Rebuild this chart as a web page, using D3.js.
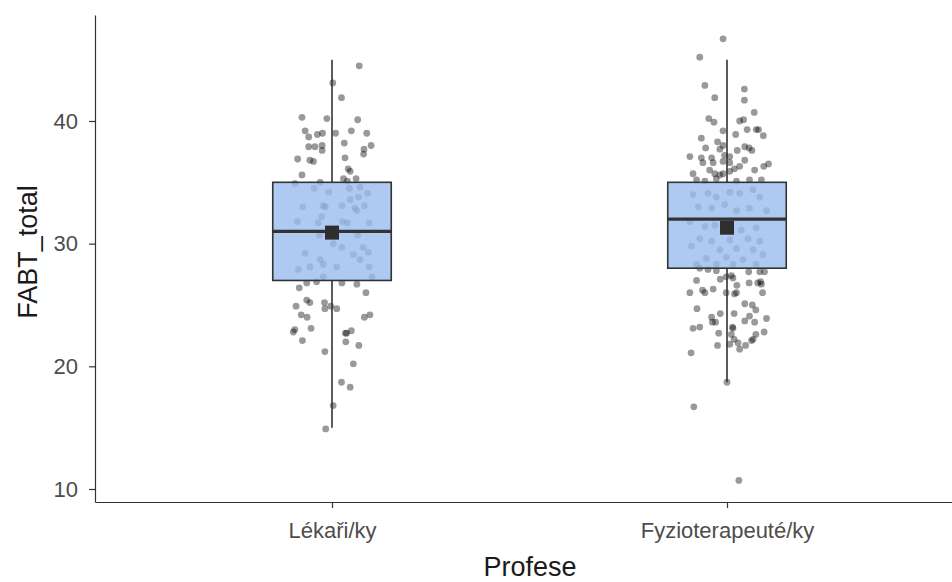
<!DOCTYPE html>
<html>
<head>
<meta charset="utf-8">
<script src="https://cdn.jsdelivr.net/npm/d3@7"></script>
<style>
  html, body { margin: 0; padding: 0; background: #fff; }
  svg { display: block; font-family: "Liberation Sans", Arial, sans-serif; }
</style>
</head>
<body>
<svg id="chart" width="952" height="582"></svg>
<script>
// Professions on the x axis
const categories = ["Lékaři/ky", "Fyzioterapeuté/ky"];

// FABT_total scores per respondent, with the horizontal jitter offset (in category units)
const lekariValues = [
  44.5, 43.1, 41.9, 40.3, 40.2, 40.1, 39.2, 38.7, 38.9, 39.0, 39.0, 39.2, 39.0, 38.2, 37.9, 37.9,
  38.0, 37.6, 38.0, 37.7, 37.3, 36.9, 36.8, 36.7, 37.0, 36.1, 35.9, 35.6, 35.3, 35.3, 34.9, 35.0,
  35.1, 34.5, 34.2, 34.5, 34.6, 34.1, 33.8, 33.6, 33.0, 33.1, 33.0, 33.1, 32.9, 32.7, 33.1, 32.2,
  31.8, 31.7, 31.8, 31.7, 31.7, 30.7, 30.7, 30.0, 29.7, 29.7, 29.3, 29.2, 29.1, 28.7, 28.7, 28.3,
  28.1, 28.1, 27.9, 28.1, 27.3, 27.3, 26.8, 26.9, 26.8, 26.7, 26.4, 26.0, 25.4, 25.2, 25.2, 24.9,
  24.7, 24.9, 24.7, 24.2, 24.0, 24.0, 24.2, 23.0, 22.8, 23.1, 22.7, 22.7, 22.9, 22.0, 22.1, 21.7,
  21.2, 20.2, 18.7, 18.3, 16.8, 14.9
];
const lekariJitter = [
  0.069, 0.002, 0.024, -0.076, -0.013, 0.065, -0.068, -0.059, -0.037, -0.024, 0.009, 0.049, 0.088, 0.031, -0.059, -0.043,
  -0.025, -0.025, 0.099, 0.081, 0.080, -0.087, -0.056, -0.047, 0.033, 0.041, 0.046, -0.076, 0.029, 0.061, -0.094, -0.030,
  0.039, -0.045, -0.008, 0.044, 0.071, 0.090, 0.067, 0.046, -0.074, -0.022, -0.017, 0.025, 0.058, 0.063, 0.082, -0.026,
  -0.088, -0.035, 0.027, 0.039, 0.094, 0.065, -0.032, 0.003, 0.025, 0.079, 0.092, -0.068, 0.054, 0.071, -0.030, -0.022,
  -0.056, 0.012, -0.085, 0.094, -0.022, 0.101, -0.064, -0.039, 0.025, 0.063, -0.083, 0.086, -0.064, -0.056, -0.019, -0.091,
  -0.018, -0.003, 0.012, -0.078, -0.063, 0.082, 0.096, -0.094, -0.098, -0.053, 0.034, 0.037, 0.049, 0.035, -0.075, 0.068,
  -0.018, 0.054, 0.024, 0.046, 0.003, -0.016
];

const fyzioValues = [
  46.7, 45.2, 42.9, 42.6, 41.9, 41.7, 40.7, 40.2, 39.9, 40.0, 40.1, 39.2, 38.9, 39.3, 39.3, 39.3,
  38.8, 38.6, 37.7, 38.0, 37.6, 37.9, 37.8, 37.6, 37.1, 37.0, 37.2, 37.1, 36.6, 35.7, 36.0, 35.7,
  35.6, 35.7, 35.9, 36.1, 36.3, 36.3, 36.6, 36.7, 36.6, 35.2, 35.1, 35.1, 35.2, 35.2, 35.3, 37.8,
  37.0, 36.8, 36.0, 38.3, 36.5,
  34.0, 34.1, 33.8, 34.2, 34.1, 34.4, 33.8, 33.0, 32.9, 33.2, 32.7, 32.9, 32.7, 31.8, 31.4, 31.5,
  31.1, 31.3, 30.4, 30.2, 30.3, 30.4, 30.2, 29.8, 29.5, 29.6, 29.5, 28.8, 28.9, 28.7, 29.1, 28.3,
  28.3, 28.3, 28.3,
  28.0, 27.9, 27.8, 27.7, 27.7, 27.7, 27.3, 27.4, 27.2, 27.1, 27.0, 26.6, 26.8, 26.8, 26.9, 26.7,
  26.3, 26.2, 26.0, 26.0, 26.0, 26.0, 25.9, 26.0, 25.1, 25.0, 24.7, 24.6, 24.3, 24.3, 24.1, 24.0,
  23.9, 23.7, 23.6, 23.6, 23.6, 23.2, 23.1, 23.2, 23.1, 22.8, 22.7, 22.6, 22.6, 22.2, 22.2, 22.1,
  21.8, 21.9, 21.7, 21.7, 21.4, 21.1, 18.7, 16.7, 10.7
];
const fyzioJitter = [
  -0.010, -0.069, -0.056, 0.044, -0.031, 0.044, 0.069, -0.046, -0.033, 0.032, 0.042, -0.010, 0.022, 0.051, 0.074, 0.080,
  0.092, -0.065, -0.018, -0.010, 0.026, 0.045, 0.056, 0.063, -0.094, -0.065, -0.006, 0.007, -0.061, -0.086, -0.044, -0.031,
  -0.018, -0.010, 0.007, 0.019, 0.032, 0.093, -0.035, -0.010, 0.007, -0.077, -0.056, 0.024, 0.057, 0.087, -0.027, -0.054,
  -0.039, 0.045, 0.070, -0.024, 0.105,
  -0.086, -0.048, -0.027, 0.007, 0.032, 0.066, 0.083, -0.073, -0.039, -0.006, 0.024, 0.057, 0.100, -0.094, -0.056, -0.031,
  0.036, 0.074, -0.069, -0.039, 0.007, 0.053, 0.083, -0.090, -0.018, 0.024, 0.066, -0.052, -0.002, 0.041, 0.091, -0.077,
  -0.027, 0.015, 0.074,
  -0.069, -0.048, -0.027, 0.055, 0.083, 0.095, -0.002, 0.011, 0.015, -0.017, -0.077, 0.025, 0.056, 0.078, 0.085, 0.087,
  -0.035, -0.062, -0.056, -0.094, -0.002, 0.024, 0.019, 0.090, 0.045, 0.064, -0.076, 0.073, 0.018, -0.017, 0.057, -0.039,
  0.100, 0.045, -0.037, -0.029, 0.070, -0.069, -0.086, 0.014, 0.015, 0.094, -0.021, 0.011, 0.073, 0.018, 0.066, 0.062,
  0.007, 0.028, -0.024, 0.047, 0.032, -0.091, 0.000, -0.084, 0.030
];

// Box-plot summaries per profession
const boxQ1 = [27, 28];
const boxMedian = [31, 32];
const boxQ3 = [35, 35];
const whiskerLow = [15, 18.7];
const whiskerHigh = [45, 45];
const groupMeans = [30.9, 31.3];

const yTicks = [10, 20, 30, 40];

const svg = d3.select("#chart");
const plotLeft = 95, plotTop = 15, plotBottom = 502;

const x = d3.scaleLinear().domain([0.4, 2.6]).range([plotLeft, 964]);
const y = d3.scaleLinear().domain([8.94, 48.64]).range([plotBottom, plotTop]);
const boxWidth = 0.3;

// Jittered points
const groups = [
  { values: lekariValues, jitter: lekariJitter },
  { values: fyzioValues, jitter: fyzioJitter }
];
const pts = svg.append("g");
groups.forEach((g, gi) => {
  pts.selectAll(null)
    .data(g.values.map((v, i) => ({ v, j: g.jitter[i], pos: gi + 1 })))
    .join("circle")
    .attr("cx", d => x(d.pos + d.j))
    .attr("cy", d => y(d.v))
    .attr("r", 3.4)
    .attr("fill", "#000")
    .attr("fill-opacity", 0.4);
});

// Boxes, whiskers, medians, means
const boxes = svg.append("g");
categories.forEach((c, i) => {
  const pos = i + 1;
  const x0 = x(pos - boxWidth / 2), x1 = x(pos + boxWidth / 2);
  boxes.append("line")
    .attr("x1", x(pos)).attr("x2", x(pos))
    .attr("y1", y(boxQ3[i])).attr("y2", y(whiskerHigh[i]))
    .attr("stroke", "#333").attr("stroke-width", 1.6);
  boxes.append("line")
    .attr("x1", x(pos)).attr("x2", x(pos))
    .attr("y1", y(boxQ1[i])).attr("y2", y(whiskerLow[i]))
    .attr("stroke", "#333").attr("stroke-width", 1.6);
  boxes.append("rect")
    .attr("x", x0).attr("width", x1 - x0)
    .attr("y", y(boxQ3[i])).attr("height", y(boxQ1[i]) - y(boxQ3[i]))
    .attr("fill", "#9abdf0").attr("fill-opacity", 0.8)
    .attr("stroke", "#333").attr("stroke-width", 1.6);
  boxes.append("line")
    .attr("x1", x0).attr("x2", x1)
    .attr("y1", y(boxMedian[i])).attr("y2", y(boxMedian[i]))
    .attr("stroke", "#333").attr("stroke-width", 3.2);
  const s = 14;
  boxes.append("rect")
    .attr("x", x(pos) - s / 2).attr("y", y(groupMeans[i]) - s / 2)
    .attr("width", s).attr("height", s)
    .attr("fill", "#2e2e2e");
});

// Axes
const yAxis = svg.append("g")
  .attr("transform", `translate(${plotLeft},0)`)
  .call(d3.axisLeft(y).tickValues(yTicks).tickSize(6).tickSizeOuter(0).tickPadding(11));
const xAxis = svg.append("g")
  .attr("transform", `translate(0,${plotBottom})`)
  .call(d3.axisBottom(x).tickValues([1, 2]).tickFormat(d => categories[d - 1])
    .tickSize(6).tickSizeOuter(0));

[yAxis, xAxis].forEach(a => {
  a.select(".domain").attr("stroke", "#333").attr("stroke-width", 1.2);
  a.selectAll(".tick line").attr("stroke", "#333").attr("stroke-width", 1.2);
  a.selectAll(".tick text")
    .attr("fill", "#4d4d4d")
    .style("font-size", "22px")
    .style("font-family", "'Liberation Sans', Arial, sans-serif");
});
xAxis.selectAll(".tick text").attr("y", 36).attr("dy", 0);

// Axis titles
svg.append("text")
  .attr("x", 530).attr("y", 576)
  .attr("text-anchor", "middle")
  .attr("fill", "#1a1a1a")
  .style("font-size", "27px")
  .text("Profese");
svg.append("text")
  .attr("transform", "translate(37,252) rotate(-90)")
  .attr("text-anchor", "middle")
  .attr("fill", "#1a1a1a")
  .style("font-size", "27px")
  .text("FABT_total");
</script>
</body>
</html>
